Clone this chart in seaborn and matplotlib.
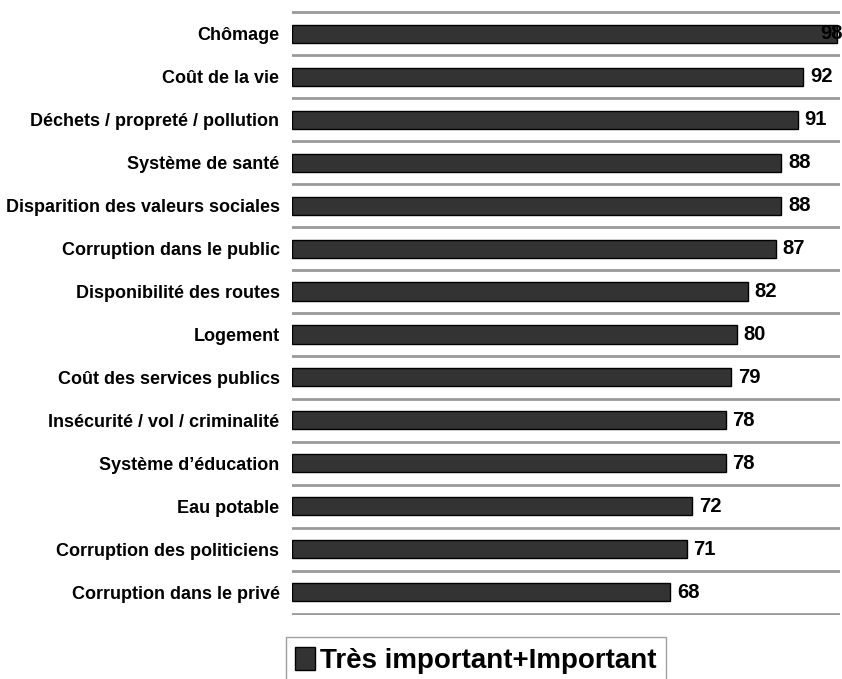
import numpy as np
import pandas as pd
import seaborn as sns
from matplotlib import pyplot as plt
from matplotlib.patches import Patch

categories = [
    "Chômage",
    "Coût de la vie",
    "Déchets / propreté / pollution",
    "Système de santé",
    "Disparition des valeurs sociales",
    "Corruption dans le public",
    "Disponibilité des routes",
    "Logement",
    "Coût des services publics",
    "Insécurité / vol / criminalité",
    "Système d’éducation",
    "Eau potable",
    "Corruption des politiciens",
    "Corruption dans le privé",
]
values = [98, 92, 91, 88, 88, 87, 82, 80, 79, 78, 78, 72, 71, 68]
series = "Très important+Important"

df = pd.DataFrame({"cat": categories, "val": values, "serie": series})

sns.set_style("white")
plt.rcParams["font.family"] = ["Liberation Sans", "DejaVu Sans"]
plt.rcParams["text.color"] = "black"
plt.rcParams["ytick.color"] = "black"

fig = plt.figure(figsize=(8.42, 6.79), dpi=100)
ax = fig.add_axes([292 / 842, 1 - 615 / 679, 548 / 842, 604 / 679])

sns.barplot(
    data=df, x="val", y="cat", hue="serie", orient="h",
    palette=["#333333"], edgecolor="black", linewidth=1,
    width=0.42, ax=ax, legend=False,
)

n = len(categories)
ax.set_xlim(0, 98.6)
ax.set_ylim(n - 0.5 + 0.03, -0.5 - 0.03)
ax.set_yticks(np.arange(-0.5, n, 1), minor=True)
ax.grid(which="minor", axis="y", color="#999999", lw=2)
ax.grid(which="major", visible=False)
ax.set_axisbelow(True)
ax.tick_params(axis="y", which="both", length=0, pad=9)
ax.set_xticks([])
ax.set_xlabel("")
ax.set_ylabel("")
for lbl in ax.get_yticklabels():
    lbl.set_fontsize(13)
    lbl.set_fontweight("bold")
    lbl.set_color("black")
for s in ax.spines.values():
    s.set_visible(False)

for c in ax.containers:
    anns = ax.bar_label(c, fmt="%d", padding=5, fontsize=14.5, fontweight="bold")
    # the first label overlaps the bar end in the original
    anns[0].xyann = (-12, 0)
    anns[0].set_clip_on(False)

fig.legend(
    handles=[Patch(facecolor="#333333", edgecolor="black", label=series)],
    loc="upper center", bbox_to_anchor=(476 / 842, 1 - 637 / 679),
    frameon=True, fancybox=False, edgecolor="#888888",
    prop={"size": 20, "weight": "bold"},
    handlelength=0.7, handleheight=0.9, handletextpad=0.2, borderpad=0.35,
    borderaxespad=0,
)

plt.savefig("out.png", dpi=100)
plt.close()
